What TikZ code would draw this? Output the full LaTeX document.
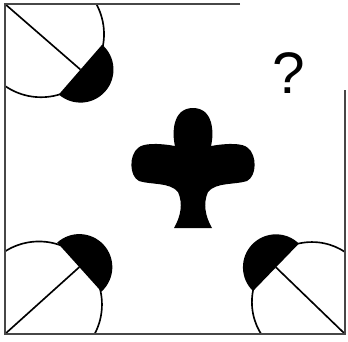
\documentclass[tikz,border=0pt]{standalone}
\usepackage{fontspec}
\setmainfont{Liberation Sans}

\begin{document}
\begin{tikzpicture}[
  x=0.3mm, y=-0.3mm,
  frame/.style={draw=black!72, line width=1.8pt},
  disc/.style={draw, fill=white, line width=1.4pt},
  spoke/.style={line width=1.4pt},
  lid/.style={fill=black},
  mark glyph/.style={font=\fontsize{50}{50}\selectfont, inner sep=0pt}
]
\useasboundingbox (0,0) rectangle (348,341);
\coordinate (tl) at (5,4);
\coordinate (bl) at (5,334);
\coordinate (br) at (345,334);
\coordinate (topend) at (240,4);
\coordinate (rightend) at (345,90);

% the three half-hidden discs with their black lids
\begin{scope}
  \clip (tl) rectangle (br);
  \path (tl) ++(40:47) coordinate (tlc);
  \path (bl) ++(-41:45) coordinate (blc);
  \path (br) ++(224:46) coordinate (brc);
  \draw[disc] (tlc) circle[radius=63];
  \draw[disc] (blc) circle[radius=63];
  \draw[disc] (brc) circle[radius=60];
  \draw[spoke] (tl) -- ++(41:100) coordinate (tlend);
  \draw[spoke] (bl) -- ++(-42:100) coordinate (blend);
  \draw[spoke] (br) -- ++(224:96) coordinate (brend);
  \fill[lid] (tlend) ++(131:33) arc[start angle=131, end angle=-49, radius=33] -- cycle;
  \fill[lid] (blend) ++(48:33) arc[start angle=48, end angle=-132, radius=33] -- cycle;
  \fill[lid] (brend) ++(314:33) arc[start angle=314, end angle=134, radius=33] -- cycle;
\end{scope}

% open frame
\draw[frame] (topend) -- (tl) -- (bl) -- (br) -- (rightend);

% cross in the middle
\fill (175,146) .. controls (172,134) and (172,108) .. (193,108)
  .. controls (214,108) and (214,134) .. (211,146)
  .. controls (228,143) and (243,143) .. (248,148)
  .. controls (257,155) and (257,176) .. (247,181)
  .. controls (235,185) and (216,182) .. (208,192)
  .. controls (203,203) and (205,216) .. (212,228)
  -- (174,228)
  .. controls (181,216) and (183,203) .. (178,192)
  .. controls (170,182) and (151,185) .. (139,181)
  .. controls (129,176) and (129,155) .. (138,148)
  .. controls (143,143) and (158,143) .. (175,146) -- cycle;

\node[mark glyph] (query) at (289,73) {?};
\end{tikzpicture}
\end{document}
